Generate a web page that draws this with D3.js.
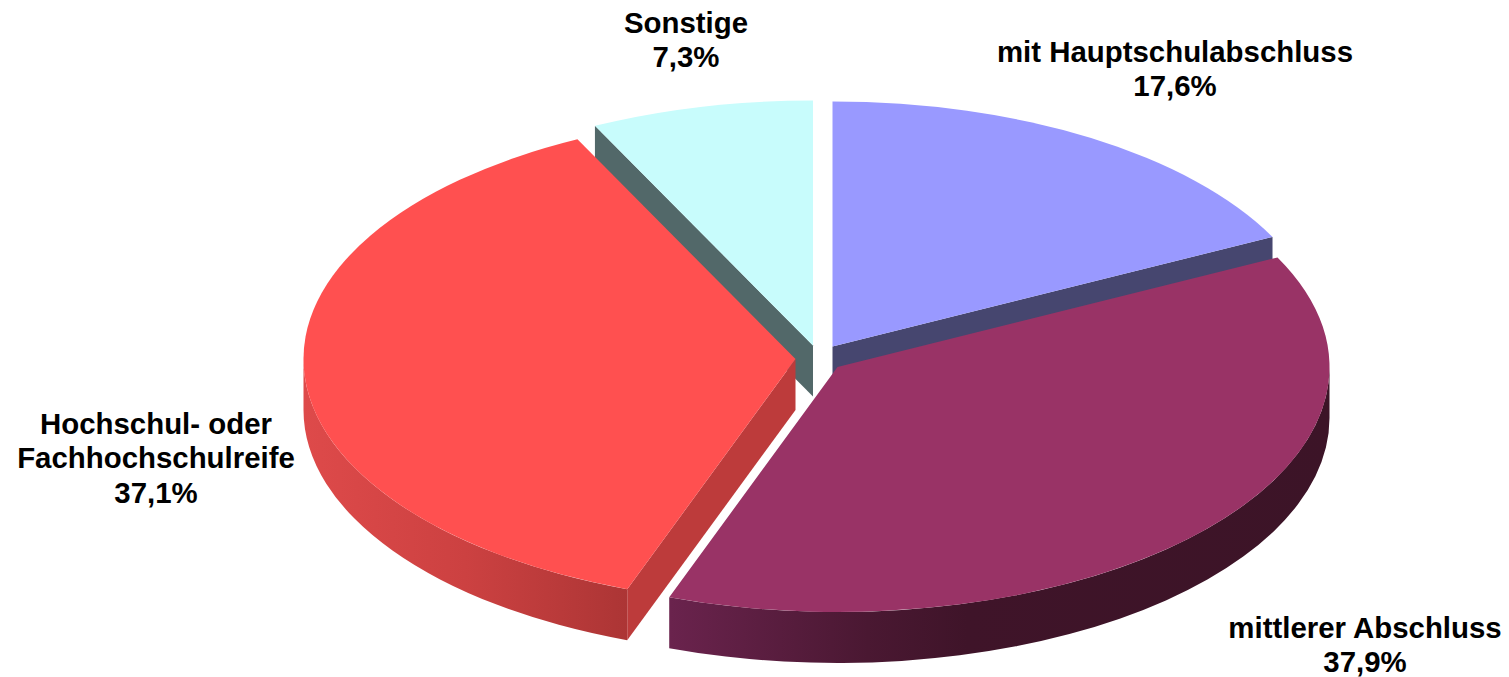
<!DOCTYPE html>
<html>
<head>
<meta charset="utf-8">
<title>Schulabschluss</title>
<script src="https://cdn.jsdelivr.net/npm/d3@7"></script>
<style>
  html, body { margin: 0; padding: 0; background: #fff; overflow: hidden; }
  text { font-family: "Liberation Sans", Arial, sans-serif; font-weight: bold; font-size: 29.4px; fill: #000; }
</style>
</head>
<body>
<div id="chart"></div>
<script>
const categories = ["mit Hauptschulabschluss", "mittlerer Abschluss", "Hochschul- oder|Fachhochschulreife", "Sonstige"];
const shares = [17.6, 37.9, 37.1, 7.3];

const topColors = ["#9999ff", "#993366", "#ff5050", "#c8fcfc"];
const cutColors = ["#46466f", "#3f1328", "#bd3b3b", "#526869"];
// apex of every slice after it was pulled out of the pie
const apexes = [[832.5, 346.5], [837.5, 367], [795.5, 359], [813, 345.5]];
const labelAnchors = [[1175, 62], [1365, 638], [156, 434], [686, 33]];

const width = 1509, height = 677;
const rx = 492, ry = 245, depth = 51;
const lineHeight = 34.3;

const svg = d3.select("#chart").append("svg")
  .attr("width", width)
  .attr("height", height);

const defs = svg.append("defs");

// x1, x2 are page coordinates, the slice group is translated so pass its apex
function wallGradient(id, apex, x1, x2, stops) {
  const g = defs.append("linearGradient")
    .attr("id", id)
    .attr("gradientUnits", "userSpaceOnUse")
    .attr("x1", x1 - apex[0]).attr("x2", x2 - apex[0])
    .attr("y1", 0).attr("y2", 0);
  stops.forEach(s => g.append("stop").attr("offset", s[0]).attr("stop-color", s[1]));
}

wallGradient("wall1", apexes[1], 670, 1330, [[0, "#6a234d"], [0.3, "#4a1832"], [0.45, "#3f1429"], [1, "#3c1427"]]);
wallGradient("wall2", apexes[2], 303, 628, [[0, "#de4a4a"], [0.5, "#cc4141"], [1, "#ac3535"]]);
const wallFills = [null, "url(#wall1)", "url(#wall2)", null];

const pie = d3.pie().sort(null).value(d => d);
const arcs = pie(shares);

const topArc = d3.arc().innerRadius(0).outerRadius(rx);

const px = a => rx * Math.sin(a);
const py = a => -ry * Math.cos(a);

// outer wall, only the part turned to the viewer (90deg to 270deg)
function wallPath(a0, a1) {
  return "M" + px(a0) + "," + py(a0)
    + "A" + rx + "," + ry + " 0 0 1 " + px(a1) + "," + py(a1)
    + "L" + px(a1) + "," + (py(a1) + depth)
    + "A" + rx + "," + ry + " 0 0 0 " + px(a0) + "," + (py(a0) + depth)
    + "Z";
}

function cutPath(a) {
  return "M0,0L" + px(a) + "," + py(a)
    + "L" + px(a) + "," + (py(a) + depth)
    + "L0," + depth + "Z";
}

// back to front
[3, 0, 2, 1].forEach(i => {
  const d = arcs[i];
  const g = svg.append("g")
    .attr("transform", "translate(" + apexes[i][0] + "," + apexes[i][1] + ")");

  if (Math.sin(d.startAngle) < -1e-6) {
    g.append("path").attr("d", cutPath(d.startAngle)).attr("fill", cutColors[i]);
  }
  if (Math.sin(d.endAngle) > 1e-6) {
    g.append("path").attr("d", cutPath(d.endAngle)).attr("fill", cutColors[i]);
  }

  const a0 = Math.max(d.startAngle, Math.PI / 2);
  const a1 = Math.min(d.endAngle, Math.PI * 1.5);
  if (a0 < a1) {
    g.append("path").attr("d", wallPath(a0, a1)).attr("fill", wallFills[i]);
  }

  g.append("path")
    .attr("transform", "scale(1," + ry / rx + ")")
    .attr("d", topArc(d))
    .attr("fill", topColors[i]);
});

const percent = d3.formatLocale({ decimal: ",", thousands: ".", grouping: [3], currency: ["", "€"] }).format(".1f");

categories.forEach((c, i) => {
  const lines = c.split("|").concat(percent(shares[i]) + "%");
  const label = svg.append("text").attr("text-anchor", "middle");
  lines.forEach((t, j) => {
    label.append("tspan")
      .attr("x", labelAnchors[i][0])
      .attr("y", labelAnchors[i][1] + j * lineHeight)
      .text(t);
  });
});
</script>
</body>
</html>
